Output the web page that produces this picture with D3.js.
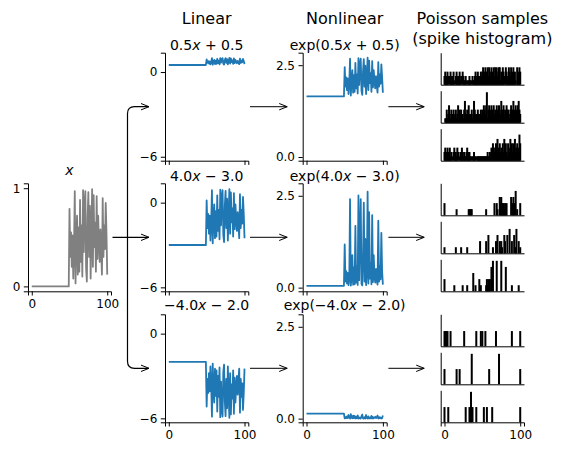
<!DOCTYPE html>
<html><head><meta charset="utf-8">
<script src="https://cdn.jsdelivr.net/npm/d3@7"></script>
<style>
body{margin:0;background:#fff;}
svg{display:block;font-family:"DejaVu Sans",sans-serif;}
text{white-space:pre;}
</style></head><body>
<svg id="c" width="564" height="455"></svg>
<script>
// ---------------- DATA ----------------
const timeSteps = d3.range(101);
const inputX = [
  0,0,0,0,0,0,0,0,0,0,
  0,0,0,0,0,0,0,0,0,0,
  0,0,0,0,0,0,0,0,0,0,
  0,0,0,0,0,0,0,0,0,0,
  0,0,0,0,0,0,0,0,0,0,
  0.79,0.30,0.55,0.20,0.52,0.08,0.40,0.97,0.03,0.45,
  0.72,0.12,0.60,0.15,0.88,0.25,0.62,0.10,0.98,0.35,
  0.85,0.97,0.18,0.05,0.70,0.96,0.30,0.82,0.08,0.55,
  0.99,0.20,0.93,0.40,0.65,0.15,0.92,0.28,0.72,0.45,
  0.25,0.58,0.35,0.12,0.90,0.30,0.62,0.38,0.85,0.55,
  0.12
];
const slopes = [0.5, 4.0, -4.0];
const intercepts = [0.5, -3.0, -2.0];
const titlePre = ["0.5", "4.0", "\u22124.0"];
const titlePost = [" + 0.5", " \u2212 3.0", " \u2212 2.0"];
const columnTitles = ["Linear", "Nonlinear"];
const poissonTitle = ["Poisson samples", "(spike histogram)"];
const xTicks = [0, 100];
const inputYTicks = [0, 1];
const linearYTicks = [-6, 0];
const nonlinYTicks = [0, 2.5];

// spike counts, top row (full 101 bins)
const spikesTop1 = [
  2,3,2,1,3,2,0,2,3,1, 2,2,3,1,0,2,3,2,1,2, 3,1,2,0,3,2,1,1,2,1, 0,1,1,2,1,1,0,2,1,1, 2,3,1,2,3,2,1,2,3,2,
  3,4,2,3,4,1,3,4,2,4, 3,2,4,3,1,4,2,4,3,4, 2,3,4,4,1,3,2,4,3,2, 0,4,3,1,2,4,3,2,4,1, 3,4,2,3,1,0,4,3,2,4, 3];
const spikesTop2 = [
  0,1,1,3,1,2,4,2,1,3, 2,1,3,1,2,3,1,2,4,1, 3,2,3,1,2,1,3,5,1,2, 3,1,4,2,1,2,3,1,2,5, 3,2,2,1,3,2,1,2,3,2,
  3,2,4,3,2,4,7,1,3,4, 2,3,4,2,3,4,2,3,1,4, 3,2,4,3,2,5,3,2,4,1, 3,2,4,3,3,2,1,3,4,2, 3,5,2,3,4,3,2,4,5,3, 2];
const spikesTop3 = [
  2,3,1,2,3,2,1,3,1,2, 1,0,2,3,1,2,1,3,2,0, 1,2,1,3,2,1,2,1,1,2, 3,2,1,2,1,1,0,1,1,2, 1,1,0,1,1,1,1,1,1,1,
  1,1,1,1,1,1,1,2,1,1, 2,1,3,2,4,3,2,3,4,2, 5,3,2,4,2,3,1,4,2,5, 3,4,2,1,4,3,2,5,3,4, 2,4,3,5,2,3,4,3,2,6, 4];
// middle and bottom rows (sparse: bin index, count)
const spikesMid1Bins   = [0,16,32,33,34,35,36,55,66,69,70,73,74,75,76,77,78,79,80,81,82,88,90,91,92,94,96,100];
const spikesMid1Counts = [2,1,1,1,1,1,1,1,2,2,1,3,2,3,1,2,2,1,2,1,2,3,2,3,2,4,1,2];
const spikesMid2Bins   = [0,15,22,30,47,55,58,64,68,70,73,74,75,76,79,80,83,86,89,92,94,95,98,100];
const spikesMid2Counts = [1,1,1,1,2,2,3,1,2,3,2,1,2,1,3,2,3,4,2,3,1,4,2,1];
const spikesMid3Bins   = [0,13,24,30,38,41,46,48,55,56,57,58,59,60,62,64,69,75,81,89,98];
const spikesMid3Counts = [2,1,1,1,3,1,2,1,1,2,1,2,1,2,4,5,5,5,4,1,1];
const spikesBot1Bins   = [0,1,2,3,4,8,26,42,48,50,54,68,89,100];
const spikesBot1Counts = [1,1,1,1,1,1,1,1,1,1,1,1,1,1];
const spikesBot2Bins   = [0,16,20,36,59,72,100];
const spikesBot2Counts = [1,1,1,2,1,2,1];
const spikesBot3Bins   = [0,5,28,33,35,37,42,52,56,63,100];
const spikesBot3Counts = [1,1,1,1,2,1,1,1,1,1,1];

// ---------------- DRAW ----------------
const svg = d3.select("#c");
const BLUE = "#1f77b4";
const TICK = 12;
const rowTops = [52.7, 183.3, 314.3];
const rowH = 108;
const L = {inputL: 28, inputW: 83, linL: 165, linW: 83.3, nonL: 302.7, nonW: 84, spkL: 440.7, spkW: 83.3, spkH: 32, spkGap: 6};

function styleAxis(g) {
  g.selectAll("path.domain").attr("stroke", "#000").attr("stroke-width", 1);
  g.selectAll(".tick line").attr("stroke", "#000").attr("stroke-width", 1);
  g.selectAll(".tick text").attr("fill", "#000").attr("font-size", TICK).attr("font-family", "DejaVu Sans");
}
function leftAxis(yS, x, ticks, fmt) {
  const a = d3.axisLeft(yS).tickSizeOuter(0);
  if (ticks) a.tickValues(ticks).tickSize(4.2).tickPadding(3.5).tickFormat(fmt);
  else a.tickValues([]);
  svg.append("g").attr("transform", `translate(${x},0)`).call(a).call(styleAxis);
}
function bottomAxis(xS, y, ticks, labels) {
  const a = d3.axisBottom(xS).tickSizeOuter(0);
  if (ticks) a.tickValues(ticks).tickSize(4.2).tickPadding(3.5).tickFormat(labels ? d3.format("d") : () => "");
  else a.tickValues([]);
  svg.append("g").attr("transform", `translate(0,${y})`).call(a).call(styleAxis);
}
function mathTitle(cx, y, pre, post, wrapL, wrapR) {
  const t = svg.append("text").attr("x", cx).attr("y", y).attr("text-anchor", "middle")
    .attr("font-size", 14).attr("fill", "#000");
  t.append("tspan").text(wrapL + pre);
  t.append("tspan").attr("font-style", "italic").text("x");
  t.append("tspan").text(post + wrapR);
}

// input panel
{
  const top = rowTops[1];
  const xS = d3.scaleLinear().domain([-5, 105]).range([L.inputL, L.inputL + L.inputW]);
  const yS = d3.scaleLinear().domain([-0.05, 1.05]).range([top + rowH, top]);
  svg.append("path").datum(timeSteps)
    .attr("d", d3.line().x(t => xS(t)).y(t => yS(inputX[t])))
    .attr("fill", "none").attr("stroke", "#808080").attr("stroke-width", 1.8).attr("stroke-linejoin", "round");
  leftAxis(yS, L.inputL, inputYTicks, d3.format("d"));
  bottomAxis(xS, top + rowH, xTicks, true);
  svg.append("text").attr("x", L.inputL + L.inputW / 2).attr("y", top - 8.3).attr("text-anchor", "middle")
    .attr("font-size", 14).attr("font-style", "italic").text("x");
}

// linear & nonlinear panels
for (let r = 0; r < 3; r++) {
  const top = rowTops[r];
  const lin = timeSteps.map(t => slopes[r] * inputX[t] + intercepts[r]);
  // linear
  {
    const xS = d3.scaleLinear().domain([-5, 105]).range([L.linL, L.linL + L.linW]);
    const yS = d3.scaleLinear().domain([-6.28, 1.37]).range([top + rowH, top]);
    svg.append("path").datum(timeSteps)
      .attr("d", d3.line().x(t => xS(t)).y(t => yS(lin[t])))
      .attr("fill", "none").attr("stroke", BLUE).attr("stroke-width", 1.8).attr("stroke-linejoin", "round");
    leftAxis(yS, L.linL, linearYTicks, d3.format("d"));
    bottomAxis(xS, top + rowH, xTicks, r === 2);
    mathTitle(L.linL + L.linW / 2, top - (r === 2 ? 4 : 2.8), titlePre[r], titlePost[r], "", "");
  }
  // nonlinear
  {
    const xS = d3.scaleLinear().domain([-5, 105]).range([L.nonL, L.nonL + L.nonW]);
    const yS = d3.scaleLinear().domain([-0.1, 2.84]).range([top + rowH, top]);
    svg.append("path").datum(timeSteps)
      .attr("d", d3.line().x(t => xS(t)).y(t => yS(Math.exp(lin[t]))))
      .attr("fill", "none").attr("stroke", BLUE).attr("stroke-width", 1.8).attr("stroke-linejoin", "round");
    leftAxis(yS, L.nonL, nonlinYTicks, d3.format(".1f"));
    bottomAxis(xS, top + rowH, xTicks, r === 2);
    mathTitle(L.nonL + L.nonW / 2, top - (r === 2 ? 4 : 2.8), titlePre[r], titlePost[r], "exp(", ")");
  }
}

// spike panels
function expand(bins, counts) {
  const arr = timeSteps.map(() => 0);
  bins.forEach((b, i) => { arr[b] = counts[i]; });
  return arr;
}
const spikeGroups = [
  [spikesTop1, spikesTop2, spikesTop3],
  [expand(spikesMid1Bins, spikesMid1Counts), expand(spikesMid2Bins, spikesMid2Counts), expand(spikesMid3Bins, spikesMid3Counts)],
  [expand(spikesBot1Bins, spikesBot1Counts), expand(spikesBot2Bins, spikesBot2Counts), expand(spikesBot3Bins, spikesBot3Counts)]
];
spikeGroups.forEach((grp, r) => {
  const gmax = d3.max(grp, a => d3.max(a));
  grp.forEach((counts, k) => {
    const top = rowTops[r] + k * (L.spkH + L.spkGap);
    const xS = d3.scaleLinear().domain([-5, 105]).range([L.spkL, L.spkL + L.spkW]);
    const yS = d3.scaleLinear().domain([0, gmax * 1.05]).range([top + L.spkH, top]);
    svg.append("g").selectAll("rect").data(timeSteps.filter(t => counts[t] > 0)).join("rect")
      .attr("x", t => xS(t) - 1).attr("width", 2)
      .attr("y", t => yS(counts[t])).attr("height", t => yS(0) - yS(counts[t]))
      .attr("fill", "#000");
    leftAxis(yS, L.spkL, null);
    const last = (r === 2 && k === 2);
    bottomAxis(xS, top + L.spkH, last ? xTicks : null, last);
  });
});

// column titles
svg.append("text").attr("x", L.linL + L.linW / 2).attr("y", 24).attr("text-anchor", "middle").attr("font-size", 16).text(columnTitles[0]);
svg.append("text").attr("x", L.nonL + L.nonW / 2).attr("y", 24).attr("text-anchor", "middle").attr("font-size", 16).text(columnTitles[1]);
svg.append("text").attr("x", L.spkL + L.spkW / 2).attr("y", 24).attr("text-anchor", "middle").attr("font-size", 16).text(poissonTitle[0]);
svg.append("text").attr("x", L.spkL + L.spkW / 2).attr("y", 43.5).attr("text-anchor", "middle").attr("font-size", 16).text(poissonTitle[1]);

// arrows
const rowMid = rowTops.map(t => t + rowH / 2);
function head(x, y) {
  svg.append("path").attr("d", `M${x - 8},${y - 3.2}L${x},${y}L${x - 8},${y + 3.2}`)
    .attr("fill", "none").attr("stroke", "#000").attr("stroke-width", 1);
}
function straight(x1, x2, y, col) {
  svg.append("line").attr("x1", x1).attr("x2", x2).attr("y1", y).attr("y2", y)
    .attr("stroke", col || "#000").attr("stroke-width", 1.2);
  head(x2, y);
}
// input -> linear (bracket)
const bx = 127.5, rad = 7, tipX = 149;
const ym = rowMid[1];
straight(L.inputL + L.inputW + 1.5, tipX, ym);
svg.append("path").attr("d",
  `M${bx},${ym}V${rowMid[0] + rad}Q${bx},${rowMid[0]} ${bx + rad},${rowMid[0]}H${tipX}`)
  .attr("fill", "none").attr("stroke", "#000").attr("stroke-width", 1.2);
svg.append("path").attr("d",
  `M${bx},${ym}V${rowMid[2] - rad}Q${bx},${rowMid[2]} ${bx + rad},${rowMid[2]}H${tipX}`)
  .attr("fill", "none").attr("stroke", "#000").attr("stroke-width", 1.2);
head(tipX, rowMid[0]);
head(tipX, rowMid[2]);
// linear -> nonlinear, nonlinear -> poisson
rowMid.forEach(y => {
  straight(L.linL + L.linW + 1.7, L.nonL - 15.5, y, "#333");
  straight(L.nonL + L.nonW + 1.7, L.spkL - 16.5, y, "#333");
});
</script>
</body></html>
